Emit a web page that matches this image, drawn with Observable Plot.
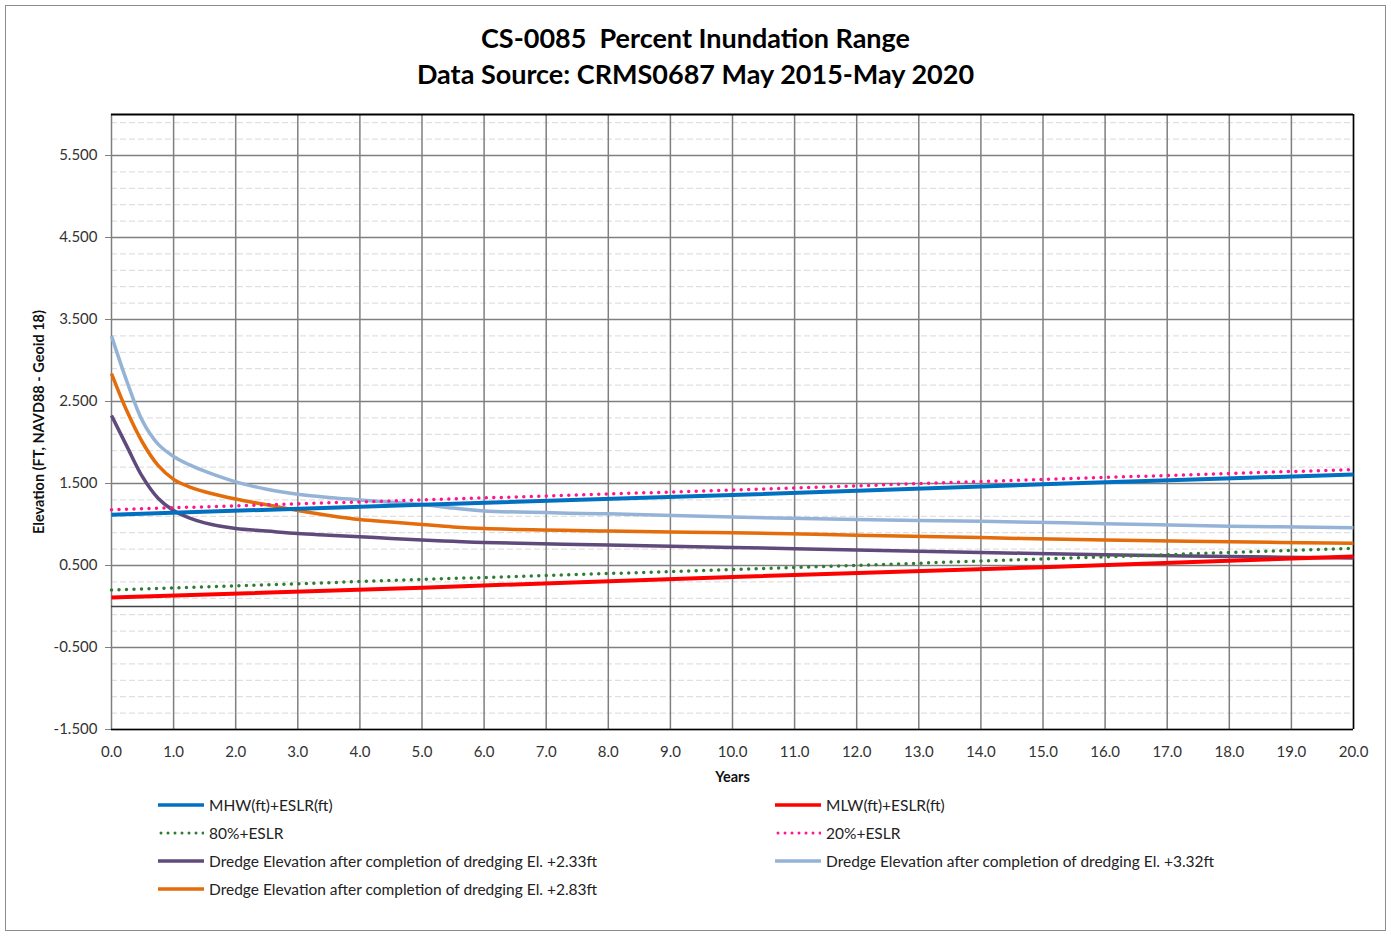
<!DOCTYPE html>
<html>
<head>
<meta charset="utf-8">
<script src="https://cdn.jsdelivr.net/npm/d3@7"></script>
<script src="https://cdn.jsdelivr.net/npm/@observablehq/plot@0.6"></script>
<style>
  html, body { margin: 0; padding: 0; background: #fff; }
  body { width: 1391px; height: 936px; position: relative; overflow: hidden; font-family: Lato, "Open Sans", sans-serif; }
  #frame { position: absolute; left: 5px; top: 5px; width: 1379px; height: 924px; border: 1px solid #8c8c8c; }
  .title { position: absolute; left: 0; width: 1391px; text-align: center; font-weight: bold; font-size: 27px; color: #000; white-space: nowrap; }
  #chart { position: absolute; left: 0; top: 95px; }
  #chart svg text { font-family: Lato, "Open Sans", sans-serif; }
  .leg { position: absolute; height: 20px; display: flex; align-items: center; font-size: 15.5px; color: #222; white-space: nowrap; }
  .leg svg { margin-right: 5px; }
</style>
</head>
<body>
<div id="frame"></div>
<div class="title" style="top:21px">CS-0085&nbsp; Percent Inundation Range</div>
<div class="title" style="top:57px">Data Source: CRMS0687 May 2015-May 2020</div>
<div id="chart"></div>
<div id="legend"></div>
<script>
// ---- data ----
const eslrYears = [0, 5, 10, 15, 20];
const mhw   = [1.12, 1.24, 1.36, 1.49, 1.61];
const mlw   = [0.11, 0.23, 0.36, 0.48, 0.61];
const p80   = [0.20, 0.33, 0.45, 0.58, 0.71];
const p20   = [1.18, 1.30, 1.42, 1.55, 1.67];

const dredgeYears = [0, 0.25, 0.5, 0.75, 1, 1.25, 1.5, 2, 2.5, 3, 3.5, 4, 4.5, 5, 5.5, 6, 8, 10, 12, 14, 16, 18, 20];
const dredge233 = [2.33, 1.95, 1.58, 1.32, 1.17, 1.08, 1.02, 0.95, 0.92, 0.89, 0.87, 0.85, 0.83, 0.81, 0.795, 0.78, 0.75, 0.72, 0.69, 0.66, 0.63, 0.61, 0.59];
const dredge283 = [2.84, 2.38, 2.00, 1.72, 1.55, 1.46, 1.40, 1.31, 1.24, 1.17, 1.11, 1.06, 1.03, 1.00, 0.97, 0.95, 0.92, 0.90, 0.87, 0.84, 0.81, 0.79, 0.77];
const dredge332 = [3.30, 2.74, 2.26, 1.98, 1.83, 1.73, 1.65, 1.52, 1.43, 1.37, 1.33, 1.30, 1.27, 1.245, 1.20, 1.165, 1.13, 1.09, 1.06, 1.04, 1.01, 0.98, 0.96];

const xTicks = d3.range(0, 21, 1);
const yTicks = [-1.5, -0.5, 0.5, 1.5, 2.5, 3.5, 4.5, 5.5];
const yMinor = [-1.3, -1.1, -0.9, -0.7, -0.3, -0.1, 0.1, 0.3, 0.7, 0.9, 1.1, 1.3, 1.7, 1.9, 2.1, 2.3, 2.7, 2.9, 3.1, 3.3, 3.7, 3.9, 4.1, 4.3, 4.7, 4.9, 5.1, 5.3, 5.7, 5.9];

const series = [
  {name: "MHW(ft)+ESLR(ft)", x: eslrYears, y: mhw, color: "#0070C0", width: 4, dotted: false},
  {name: "MLW(ft)+ESLR(ft)", x: eslrYears, y: mlw, color: "#FF0000", width: 4, dotted: false},
  {name: "80%+ESLR", x: eslrYears, y: p80, color: "#2E7D32", width: 3.5, dotted: true},
  {name: "20%+ESLR", x: eslrYears, y: p20, color: "#FF1493", width: 3.5, dotted: true},
  {name: "Dredge Elevation after completion of dredging El. +2.33ft", x: dredgeYears, y: dredge233, color: "#604A7B", width: 3.5, dotted: false},
  {name: "Dredge Elevation after completion of dredging El. +3.32ft", x: dredgeYears, y: dredge332, color: "#95B3D7", width: 3.5, dotted: false},
  {name: "Dredge Elevation after completion of dredging El. +2.83ft", x: dredgeYears, y: dredge283, color: "#E46C0A", width: 3.5, dotted: false}
];
const drawOrder = [4, 6, 5, 2, 1, 0, 3];

const lineMarks = drawOrder.map(i => {
  const s = series[i];
  const data = s.x.map((x, k) => ({x, y: s.y[k]}));
  return Plot.line(data, {
    x: "x", y: "y", stroke: s.color, strokeWidth: s.width,
    curve: s.dotted || s.x.length < 6 ? "linear" : "catmull-rom",
    strokeDasharray: s.dotted ? "0,7.5" : null,
    strokeLinecap: s.dotted ? "round" : "butt"
  });
});

const chart = Plot.plot({
  width: 1391,
  height: 700,
  marginLeft: 111,
  marginRight: 38,
  marginTop: 19,
  marginBottom: 66,
  style: {fontSize: "15px", color: "#333", background: "transparent"},
  x: {domain: [0, 20]},
  y: {domain: [-1.5, 6]},
  marks: [
    Plot.ruleY(yMinor, {stroke: "#d9d9d9", strokeWidth: 1, strokeDasharray: "6,3"}),
    Plot.ruleX(xTicks, {stroke: "#7f7f7f", strokeWidth: 1.5}),
    Plot.ruleY(yTicks, {stroke: "#7f7f7f", strokeWidth: 1.5}),
    Plot.ruleY([0], {stroke: "#404040", strokeWidth: 1.5}),
    Plot.ruleY([6], {stroke: "#000", strokeWidth: 2}),
    Plot.ruleY([-1.5], {stroke: "#000", strokeWidth: 1.5}),
    Plot.ruleX([20], {stroke: "#000", strokeWidth: 1.5}),
    Plot.axisY({ticks: yTicks, tickFormat: d => d.toFixed(3), tickSize: 6, tickPadding: 8, fontSize: 15,
      stroke: "#7f7f7f", fill: "#333",
      label: "Elevation (FT, NAVD88 - Geoid 18)", labelAnchor: "center", labelArrow: "none", labelOffset: 78}),
    Plot.axisX({ticks: xTicks, tickFormat: d => d.toFixed(1), tickSize: 0, tickPadding: 17, fontSize: 15, fill: "#333",
      label: "Years", labelAnchor: "center", labelArrow: "none", labelOffset: 52}),
    ...lineMarks
  ]
});
document.getElementById("chart").appendChild(chart);
// bold axis labels
chart.querySelectorAll('[aria-label="y-axis label"] text, [aria-label="x-axis label"] text').forEach(t => {
  t.style.fontWeight = "bold";
  t.style.fontSize = "14.5px";
  t.style.fill = "#111";
});

// ---- legend ----
const legendPos = [
  {i: 0, left: 158, top: 795},
  {i: 1, left: 775, top: 795},
  {i: 2, left: 158, top: 823},
  {i: 3, left: 775, top: 823},
  {i: 4, left: 158, top: 851},
  {i: 5, left: 775, top: 851},
  {i: 6, left: 158, top: 879}
];
const legend = document.getElementById("legend");
legendPos.forEach(p => {
  const s = series[p.i];
  const el = document.createElement("div");
  el.className = "leg";
  el.style.left = p.left + "px";
  el.style.top = p.top + "px";
  const dash = s.dotted ? `stroke-dasharray="0,7" stroke-linecap="round"` : "";
  el.innerHTML = `<svg width="46" height="8"><line x1="${s.dotted ? 3 : 0}" y1="4" x2="46" y2="4" stroke="${s.color}" stroke-width="${s.dotted ? 3 : 3.5}" ${dash}/></svg><span>${s.name}</span>`;
  legend.appendChild(el);
});
</script>
</body>
</html>
